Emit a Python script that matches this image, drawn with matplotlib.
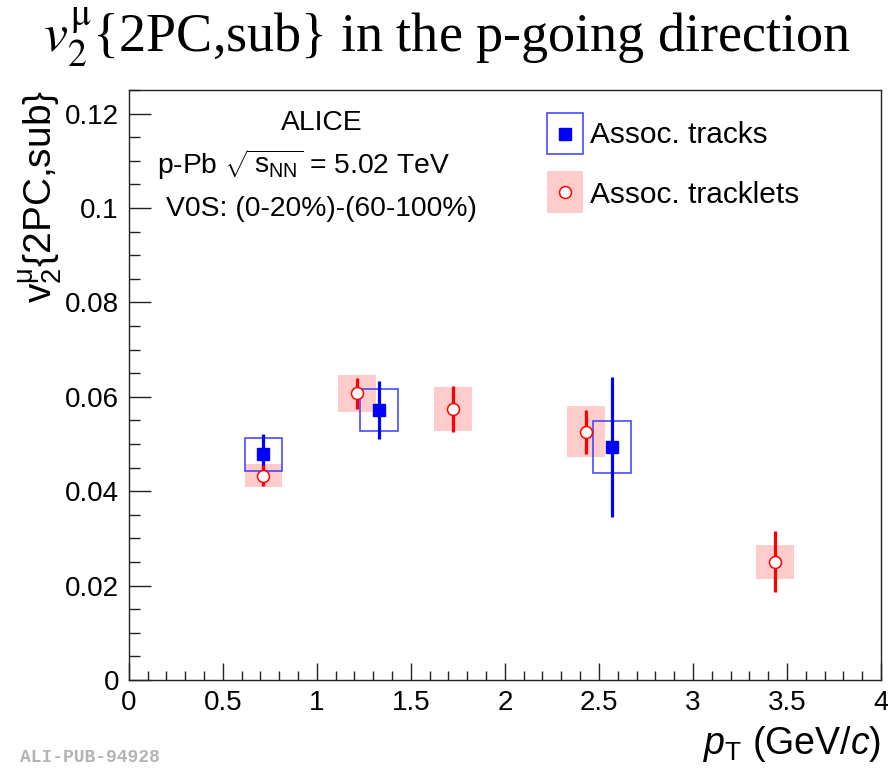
import numpy as np
import matplotlib
matplotlib.use("Agg")
import matplotlib.pyplot as plt
from matplotlib.patches import Rectangle
from matplotlib.ticker import MultipleLocator, FormatStrFormatter

plt.rcParams["font.family"] = "Liberation Sans"
plt.rcParams["mathtext.fontset"] = "custom"
plt.rcParams["mathtext.rm"] = "Liberation Sans"
plt.rcParams["mathtext.it"] = "Liberation Sans:italic"
plt.rcParams["mathtext.bf"] = "Liberation Sans:bold"

# muon v2 vs pT, associated tracks (blue) and tracklets (red)
pt_tracks = [0.716, 1.33, 2.571]
v2_tracks = [0.0478, 0.0572, 0.0494]
stat_tracks = [0.0043, 0.0062, 0.0149]
syst_tracks = [0.0035, 0.0044, 0.0055]

pt_tracklets = [0.716, 1.213, 1.723, 2.431, 3.436]
v2_tracklets = [0.0433, 0.0607, 0.0574, 0.0526, 0.0251]
stat_tracklets = [0.0022, 0.0032, 0.0049, 0.0047, 0.0065]
syst_tracklets = [0.0025, 0.0039, 0.0046, 0.0054, 0.0036]

box_dx = 0.1

fig = plt.figure(figsize=(8.88, 7.68), dpi=100)
ax = fig.add_axes([128.7/888, 88/768, 752.3/888, 590/768])

for x, y, s in zip(pt_tracklets, v2_tracklets, syst_tracklets):
    ax.add_patch(Rectangle((x - box_dx, y - s), 2*box_dx, 2*s,
                           facecolor="#ffcccc", edgecolor="none", zorder=1))
for x, y, s in zip(pt_tracks, v2_tracks, syst_tracks):
    ax.add_patch(Rectangle((x - box_dx, y - s), 2*box_dx, 2*s,
                           facecolor="none", edgecolor="#3a3aff", lw=1.1, zorder=2))

ax.errorbar(pt_tracks, v2_tracks, yerr=stat_tracks, fmt="s", color="#0000ff",
            ms=8.4, elinewidth=2.3, capsize=0, zorder=3)
ax.errorbar(pt_tracklets, v2_tracklets, yerr=stat_tracklets, fmt="o", color="#ff0000",
            mfc="white", mec="#ff0000", mew=1.1, ms=8.6, elinewidth=2.3, capsize=0, zorder=4)

ax.set_xlim(0, 4)
ax.set_ylim(0, 0.125)
ax.xaxis.set_major_locator(MultipleLocator(0.5))
ax.xaxis.set_minor_locator(MultipleLocator(0.1))
ax.yaxis.set_major_locator(MultipleLocator(0.02))
ax.yaxis.set_minor_locator(MultipleLocator(0.005))
ax.xaxis.set_major_formatter(FormatStrFormatter("%g"))
ax.yaxis.set_major_formatter(FormatStrFormatter("%g"))
ax.tick_params(axis="both", which="both", direction="in", top=False, right=False,
               width=1.0, color="#222222", labelsize=20)
ax.tick_params(axis="y", which="major", length=15.5, pad=7)
ax.tick_params(axis="y", which="minor", length=7.8)
ax.tick_params(axis="x", which="major", length=12.2, pad=7)
ax.tick_params(axis="x", which="minor", length=6.2)
for sp in ax.spines.values():
    sp.set_linewidth(1.0)
    sp.set_color("#222222")

# legend drawn by hand in axes coordinates
ax.add_patch(Rectangle((0.5556, 0.891), 0.0487, 0.0695, transform=ax.transAxes,
                       facecolor="none", edgecolor="#3a3aff", lw=1.1, zorder=5))
ax.plot([0.58], [0.9257], "s", color="#0000ff", ms=8.4, transform=ax.transAxes, zorder=6)
ax.add_patch(Rectangle((0.5556, 0.7915), 0.0487, 0.071, transform=ax.transAxes,
                       facecolor="#ffcccc", edgecolor="none", zorder=5))
ax.plot([0.58], [0.827], "o", mfc="white", mec="#ff0000", mew=1.1, ms=8.6,
        transform=ax.transAxes, zorder=6)
ax.text(0.613, 0.924, "Assoc. tracks", transform=ax.transAxes, fontsize=21.5,
        ha="left", va="center")
ax.text(0.613, 0.822, "Assoc. tracklets", transform=ax.transAxes, fontsize=21.5,
        ha="left", va="center")

# collision system labels
ax.text(0.257, 0.944, "ALICE", transform=ax.transAxes, fontsize=20.3, ha="center", va="center")
ax.text(0.232, 0.873, r"p-Pb $\sqrt{\,\mathrm{s}_{\mathrm{NN}}}$ = 5.02 TeV",
        transform=ax.transAxes, fontsize=20.3, ha="center", va="center")
ax.text(0.256, 0.799, "V0S: (0-20%)-(60-100%)", transform=ax.transAxes, fontsize=20.3,
        ha="center", va="center")

fig.text(447/888, 1 - 38/768, r"$v_2^{\mathrm{μ}}$" + "{2PC,sub} in the p-going direction",
         fontsize=39, family="Liberation Serif", math_fontfamily="stix",
         ha="center", va="center")
fig.text(40/888, 1 - 90/768, r"$\mathrm{v}_2^{\mathrm{μ}}$" + "{2PC,sub}", rotation=90,
         fontsize=28, ha="center", va="top")
fig.text(881/888, 14/768, r"$p_{\mathrm{T}}$ (GeV/$c$)", fontsize=27, ha="right",
         va="baseline")
fig.text(20/888, 1 - 757/768, "ALI-PUB-94928", fontsize=13, family="Liberation Mono",
         weight="bold", color="#b4b4b4", ha="left", va="center")

fig.savefig("out.png", dpi=100)
